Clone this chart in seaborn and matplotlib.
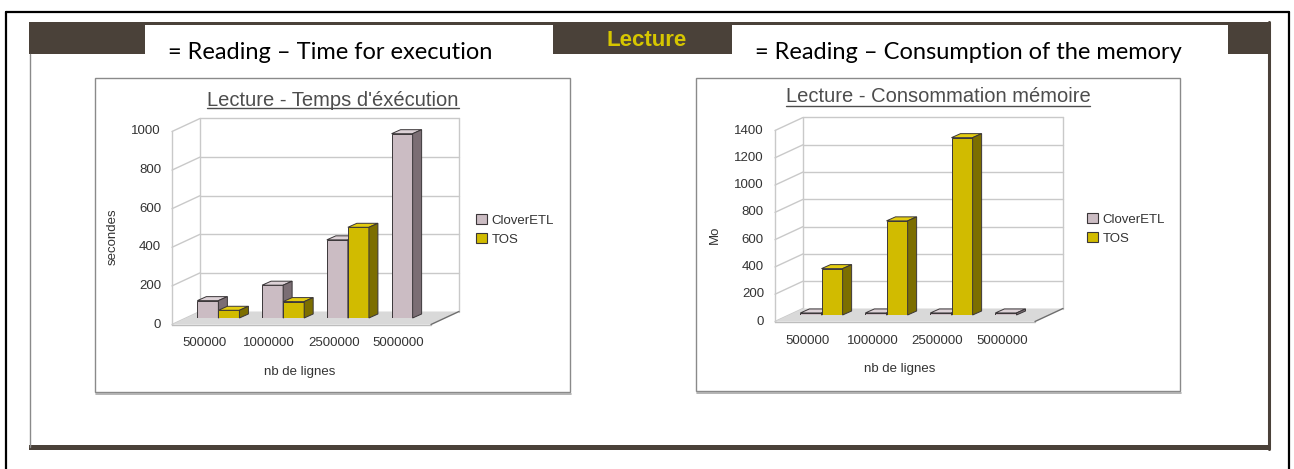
import numpy as np
import pandas as pd
import seaborn as sns
import matplotlib.pyplot as plt
from matplotlib.patches import Rectangle, Polygon, Patch
from matplotlib.lines import Line2D

# values
lignes = ["500000", "1000000", "2500000", "5000000"]
outils = ["CloverETL", "TOS"]
temps_clover = [90, 170, 405, 955]
temps_tos = [40, 85, 470, 0]
memoire_clover = [15, 15, 15, 15]
memoire_tos = [340, 690, 1300, 0]

W, H = 1294, 469
BROWN = "#4a4139"
PINK, YELLOW = "#cbbcc3", "#d1bb00"
SIDE = {PINK: "#7b6e74", YELLOW: "#7c6e00"}
TOP = {PINK: "#ddd2d7", YELLOW: "#e4cd10"}
EDGE = "#3a3638"

sns.set_theme(style="white")
plt.rcParams["font.family"] = ["Liberation Sans", "DejaVu Sans"]

fig = plt.figure(figsize=(W / 100, H / 100), dpi=100)


def fline(xs, ys, **kw):
    fig.add_artist(Line2D([x / W for x in xs], [1 - y / H for y in ys],
                          transform=fig.transFigure, **kw))


def fbox(x0, y0, x1, y1, **kw):
    fig.add_artist(Rectangle((x0 / W, 1 - y1 / H), (x1 - x0) / W, (y1 - y0) / H,
                             transform=fig.transFigure, **kw))


# page frame / header band
fline([6, 1289], [12, 12], color="black", lw=1.6)
fline([6, 6], [12, 469], color="black", lw=1.6)
fline([1289, 1289], [12, 469], color="black", lw=1.6)
fbox(29, 22, 1270, 25, color=BROWN, lw=0)
fbox(29, 22, 145, 54, color=BROWN, lw=0)
fbox(553, 22, 732, 54, color=BROWN, lw=0)
fbox(1228, 22, 1270, 54, color=BROWN, lw=0)
fline([1269, 1269], [22, 449], color=BROWN, lw=2.2)
fline([29.5, 29.5], [54, 447], color="#8a8a8a", lw=1)
fbox(29, 445, 1270, 450, color=BROWN, lw=0)

fig.text(647 / W, 1 - 46 / H, "Lecture", ha="center", va="baseline",
         fontsize=16, fontweight="bold", color="#d6c600")
fig.text(330 / W, 1 - 59 / H, "= Reading \u2013 Time for execution", ha="center",
         va="baseline", fontsize=17, family="Lato", color="black")
fig.text(968 / W, 1 - 59 / H, "= Reading \u2013 Consumption of the memory", ha="center",
         va="baseline", fontsize=17, family="Lato", color="black")


def chart(box, plane, ymax, clover, tos, title, tpos, ylabel, ylpos, xlpos, legpos):
    bx0, by0, bx1, by1 = box
    fbox(bx0, by0, bx1, by1, facecolor="white", edgecolor="#8a8a8a", lw=1, zorder=-2)
    fline([bx0 + 1, bx1 + 1], [by1 + 1.5, by1 + 1.5], color="#a8a8a8", lw=1.2, zorder=-1)

    x0, ytop, x1, ybot = plane
    ax = fig.add_axes([x0 / W, 1 - ybot / H, (x1 - x0) / W, (ybot - ytop) / H])
    df = pd.DataFrame({
        "lignes": lignes * 2,
        "outil": [outils[0]] * len(lignes) + [outils[1]] * len(lignes),
        "valeur": clover + tos,
    })
    sns.barplot(data=df, x="lignes", y="valeur", hue="outil", palette=[PINK, YELLOW],
                width=0.65, gap=0, saturation=1, edgecolor=EDGE, linewidth=0.7,
                legend=False, ax=ax)
    xl, xr = -0.5, 3.5
    ax.set_xlim(xl, xr)
    ax.set_ylim(0, ymax)
    ax.set_axis_off()

    sx = (xr - xl) / (x1 - x0)
    sy = ymax / (ybot - ytop)
    bdx, bdy = 14 * sx, 6.5 * sy
    fdx, fdy = -14 * sx, -6.5 * sy
    grid = "#c9c9c9"
    kw = dict(clip_on=False)

    # floor
    ax.add_patch(Polygon([(xl + fdx, fdy), (xr + fdx, fdy), (xr + bdx, bdy), (xl + bdx, bdy)],
                         closed=True, facecolor="#d9d9d9", edgecolor="none", zorder=0.5, **kw))
    ax.plot([xl + fdx, xr + fdx], [fdy, fdy], color="#bdbdbd", lw=1, zorder=0.6, **kw)
    ax.plot([xr + fdx, xr + bdx], [fdy, bdy], color="#6e6e6e", lw=1, zorder=0.6, **kw)

    # back wall and left wall
    ticks = np.arange(0, ymax + 1, 200)
    ax.plot([xl + bdx, xl + bdx], [bdy, ymax + bdy], color=grid, lw=1, zorder=0.4, **kw)
    ax.plot([xr + bdx, xr + bdx], [bdy, ymax + bdy], color=grid, lw=1, zorder=0.4, **kw)
    ax.plot([xl + fdx, xl + fdx], [fdy, ymax + fdy], color=grid, lw=1, zorder=0.4, **kw)
    for t in ticks:
        if t > 0:
            ax.plot([xl + bdx, xr + bdx], [t + bdy, t + bdy], color=grid, lw=1, zorder=0.4, **kw)
        ax.plot([xl + fdx, xl + bdx], [t + fdy, t + bdy], color=grid, lw=1, zorder=0.4, **kw)
        ax.text(xl + fdx - 11 * sx, t + fdy, str(int(t)), ha="right", va="center",
                fontsize=9.5, color="#333333")
    for i, lab in enumerate(lignes):
        ax.text(i + fdx, fdy - 19 * sy, lab, ha="center", va="center",
                fontsize=9.5, color="#333333")

    # fake depth on every bar
    ddx, ddy = 9 * sx, 4 * sy
    bars = sorted([p for p in ax.patches if isinstance(p, Rectangle)], key=lambda p: p.get_x())
    for k, p in enumerate(bars):
        h = p.get_height()
        if h <= 0:
            p.set_visible(False)
            continue
        z = 2 + k * 0.1
        px, pw = p.get_x(), p.get_width()
        col = PINK if np.allclose(p.get_facecolor()[:3], plt.matplotlib.colors.to_rgb(PINK)) else YELLOW
        p.set_zorder(z)
        ax.add_patch(Polygon([(px, h), (px + pw, h), (px + pw + ddx, h + ddy), (px + ddx, h + ddy)],
                             closed=True, facecolor=TOP[col], edgecolor=EDGE, lw=0.7,
                             zorder=z, **kw))
        ax.add_patch(Polygon([(px + pw, 0), (px + pw + ddx, ddy), (px + pw + ddx, h + ddy), (px + pw, h)],
                             closed=True, facecolor=SIDE[col], edgecolor=EDGE, lw=0.7,
                             zorder=z, **kw))

    handles = [Patch(facecolor=c, edgecolor=EDGE, lw=0.8, label=o)
               for c, o in zip([PINK, YELLOW], outils)]
    leg = ax.legend(handles=handles, loc="upper left",
                    bbox_to_anchor=(legpos[0] / W, 1 - legpos[1] / H),
                    bbox_transform=fig.transFigure, frameon=False, fontsize=9.5,
                    handlelength=0.8, handleheight=0.8, handletextpad=0.4,
                    labelspacing=0.5, borderpad=0, borderaxespad=0)
    for tx in leg.get_texts():
        tx.set_color("#333333")

    tt = fig.text(tpos[0] / W, 1 - tpos[1] / H, title, ha="center", va="baseline",
                  fontsize=14.5, color="#4d4d4d")
    fig.text(ylpos[0] / W, 1 - ylpos[1] / H, ylabel, rotation=90, ha="center", va="center",
             fontsize=9.5, color="#333333")
    fig.text(xlpos[0] / W, 1 - xlpos[1] / H, "nb de lignes", ha="center", va="center",
             fontsize=9.5, color="#333333")
    return tt


t1 = chart((95, 78, 570, 392), (186, 125, 445, 318), 1000, temps_clover, temps_tos,
           "Lecture - Temps d'éxécution", (333, 106), "secondes", (113, 237),
           (300, 372), (476, 214))
t2 = chart((696, 78, 1180, 391), (789, 124, 1049, 315), 1400, memoire_clover, memoire_tos,
           "Lecture - Consommation mémoire", (938, 102.5), "Mo", (715, 235),
           (900, 369), (1087, 213))

# underline the chart titles
fig.canvas.draw()
rend = fig.canvas.get_renderer()
for t, uy in [(t1, 108.5), (t2, 106)]:
    bb = t.get_window_extent(rend)
    fig.add_artist(Line2D([bb.x0 / W, bb.x1 / W], [1 - uy / H, 1 - uy / H],
                          transform=fig.transFigure, color="#4d4d4d", lw=1))

fig.savefig("out.png", dpi=100)
